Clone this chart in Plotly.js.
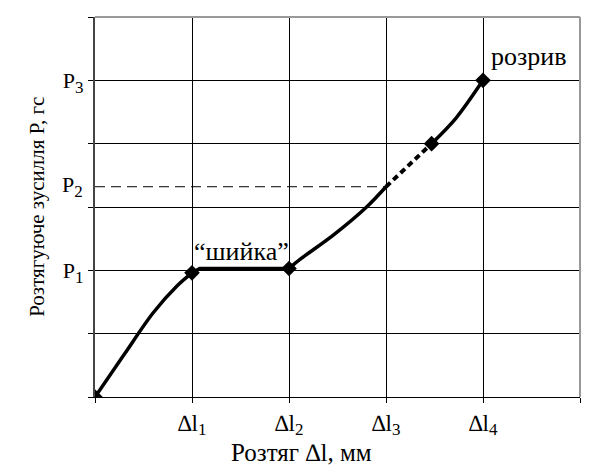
<!DOCTYPE html>
<html>
<head>
<meta charset="utf-8">
<script src="https://cdn.plot.ly/plotly-3.0.1.min.js"></script>
<style>html,body{margin:0;padding:0;background:#fff;}#chart{width:609px;height:472px;}</style>
</head>
<body>
<div id="chart"></div>
<script>
// Curve segments (x in Δl grid units, y in P grid units)
const riseX = [0, 0.3, 0.6, 0.85, 1.0];
const riseY = [0, 0.67, 1.33, 1.76, 1.96];
const neckX = [1.0, 1.08, 2.0];
const neckY = [1.96, 2.03, 2.03];
const hardenX = [2.0, 2.12, 2.46, 2.8, 3.0];
const hardenY = [2.03, 2.18, 2.56, 3.0, 3.32];
const dashX = [3.0, 3.47];
const dashY = [3.32, 4.0];
const breakX = [3.47, 3.72, 4.0];
const breakY = [4.0, 4.4, 5.0];
const markerX = [0, 1.0, 2.0, 3.47, 4.0];
const markerY = [0, 1.96, 2.03, 4.0, 5.0];
const p2Level = 3.32;
const p2X = [0, 3.0];

const sub = d => '<sub><span style="font-size:17px">' + d + '</span></sub>';
const xTickVals = [0, 1, 2, 3, 4, 5];
const xTickText = ['', '∆l' + sub('1'), '∆l' + sub('2'), '∆l' + sub('3'), '∆l' + sub('4'), ''];
const yTickVals = [0, 1, 2, 3, 4, 5, 6];
const yTickText = ['', '', 'P' + sub('1'), '', '', 'P' + sub('3'), ''];
const p2Label = 'P' + sub('2');
const xTitle = 'Розтяг ∆l, мм';
const yTitle = 'Розтягуюче зусилля P, гс';
const breakLabel = 'розрив';
const neckLabel = '“шийка”';

const serif = '"Liberation Serif", "Times New Roman", serif';
const lineStyle = {color: '#000', width: 3.5, shape: 'spline', smoothing: 0.9};

const traces = [
  {x: p2X, y: [p2Level, p2Level], mode: 'lines', line: {color: '#000', width: 1, dash: '10px,6px'}, hoverinfo: 'skip'},
  {x: riseX, y: riseY, mode: 'lines', line: lineStyle},
  {x: neckX, y: neckY, mode: 'lines', line: {color: '#000', width: 3.5}},
  {x: hardenX, y: hardenY, mode: 'lines', line: lineStyle},
  {x: dashX, y: dashY, mode: 'lines', line: {color: '#000', width: 4, dash: '6px,4px'}},
  {x: breakX, y: breakY, mode: 'lines', line: lineStyle},
  {x: markerX, y: markerY, mode: 'markers', marker: {symbol: 'diamond', size: 12, color: '#000'}}
];

const layout = {
  width: 609, height: 472,
  margin: {l: 95, r: 29, t: 17, b: 75},
  paper_bgcolor: '#fff', plot_bgcolor: '#fff',
  showlegend: false,
  font: {family: serif, color: '#000', size: 22},
  xaxis: {
    range: [0, 5], tickvals: xTickVals, ticktext: xTickText,
    showgrid: true, gridcolor: '#000', gridwidth: 1,
    zeroline: false, showline: true, linecolor: '#000', linewidth: 1,
    ticks: 'outside', ticklen: 5, tickcolor: '#000',
    tickfont: {family: serif, size: 23, color: '#000'}
  },
  yaxis: {
    range: [0, 6], tickvals: yTickVals, ticktext: yTickText,
    showgrid: true, gridcolor: '#000', gridwidth: 1,
    zeroline: false, showline: true, linecolor: '#444', linewidth: 2,
    ticks: 'outside', ticklen: 5, tickcolor: '#000',
    tickfont: {family: serif, size: 22, color: '#000'}
  },
  shapes: [
    {type: 'line', xref: 'paper', yref: 'paper', x0: 0, x1: 1, y0: 1, y1: 1, line: {color: '#999', width: 2}},
    {type: 'line', xref: 'paper', yref: 'paper', x0: 1, x1: 1, y0: 0, y1: 1, line: {color: '#999', width: 2}}
  ],
  annotations: [
    {xref: 'paper', yref: 'y', x: 0, y: p2Level, xanchor: 'right', yanchor: 'middle', xshift: -10, text: p2Label, showarrow: false, font: {family: serif, size: 22, color: '#000'}},
    {xref: 'paper', yref: 'paper', x: 0.425, y: -0.147, xanchor: 'center', yanchor: 'middle', text: xTitle, showarrow: false, font: {family: serif, size: 25, color: '#000'}},
    {xref: 'paper', yref: 'paper', x: -0.12, y: 0.5, xanchor: 'center', yanchor: 'middle', textangle: -90, text: yTitle, showarrow: false, font: {family: serif, size: 21, color: '#000'}},
    {xref: 'x', yref: 'y', x: 4.06, y: 5.37, xanchor: 'left', yanchor: 'middle', text: breakLabel, showarrow: false, font: {family: serif, size: 26, color: '#000'}},
    {xref: 'x', yref: 'y', x: 1.51, y: 2.3, xanchor: 'center', yanchor: 'middle', text: neckLabel, showarrow: false, font: {family: serif, size: 26, color: '#000'}}
  ]
};

Plotly.newPlot('chart', traces, layout, {displayModeBar: false, staticPlot: true});
</script>
</body>
</html>
